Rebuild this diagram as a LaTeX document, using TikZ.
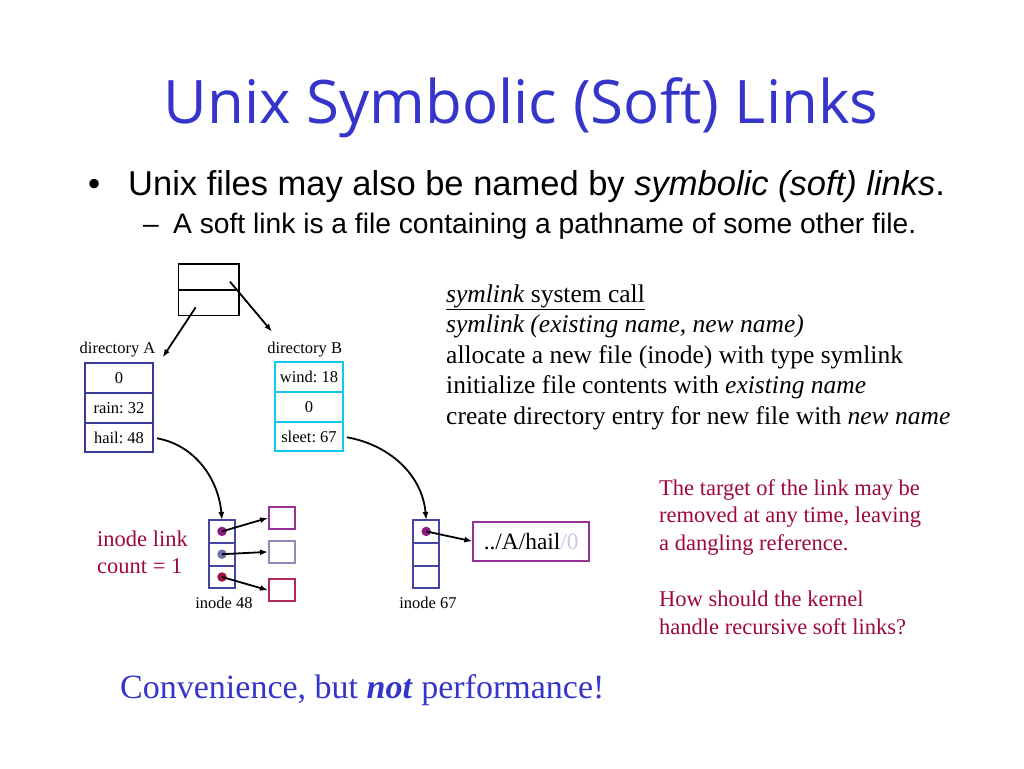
\documentclass[tikz,border=0pt]{standalone}
\usepackage{fontspec}
\setmainfont{Liberation Serif}
\newfontfamily\titlefont{Open Sans}
\newfontfamily\slidesans{Liberation Sans}
\usepackage{tikz}
\usetikzlibrary{positioning, arrows.meta}
\frenchspacing
\definecolor{titleBlue}  {HTML}{3535CC}
\definecolor{dirABlue}   {HTML}{3A3A9A}
\definecolor{dirBCyan}   {HTML}{10C8EC}
\definecolor{inodeBlue}  {HTML}{4545A5}
\definecolor{noteRed}    {HTML}{A0083C}
\definecolor{ptrPurple}  {HTML}{8E1A80}
\definecolor{ptrGray}    {HTML}{7272A2}
\definecolor{ptrCrimson} {HTML}{A0103C}
\definecolor{boxPurple}  {HTML}{9A3398}
\definecolor{boxGray}    {HTML}{8C8CBC}
\definecolor{boxCrimson} {HTML}{B02858}
\definecolor{nulLilac}   {HTML}{C8C8E8}
\newlength{\DirW}
\setlength{\DirW}{68pt}
\newlength{\DirH}
\setlength{\DirH}{29.7pt}
\newlength{\InoW}
\setlength{\InoW}{25.7pt}
\newlength{\InoH}
\setlength{\InoH}{22.8pt}
\newcommand{\fs}[2]{\fontsize{#1}{#2}\selectfont}
\tikzset{
  dircell/.style={draw=#1, line width=2pt, minimum width=\DirW,
    minimum height=\DirH, inner sep=0pt, outer sep=0pt, font=\fs{16.5}{18}},
  inocell/.style={draw=inodeBlue, line width=2pt, minimum width=\InoW,
    minimum height=\InoH, inner sep=0pt, outer sep=0pt},
  blockbox/.style={draw=#1, line width=2pt, minimum width=26pt,
    minimum height=22pt, inner sep=0pt},
  ptrdot/.style={circle, fill=#1, minimum size=9.5pt, inner sep=0pt},
  ptr/.style={-{Latex[length=8pt,width=6pt]}, line width=1.8pt},
  lbl/.style={anchor=base, inner sep=0pt, font=\fs{16.5}{18}},
  note/.style={anchor=base west, inner sep=0pt, align=left},
}

\begin{document}
\begin{tikzpicture}[x=1pt, y=1pt]
\useasboundingbox[fill=white] (0,0) rectangle (1024,-768);

% --- TITLE AND BULLETS ---
\node[anchor=base, inner sep=0pt, text=titleBlue, font=\titlefont\fs{60}{66}]
  (title) at (521,-123) {Unix Symbolic (Soft) Links};
\node[note, font=\slidesans\fs{34.5}{40}]
  (dot) at (88,-195) {\textbullet};
\node[note, font=\slidesans\fs{34.5}{40}]
  (bullet) at (128,-195) {Unix files may also be named by \textit{symbolic (soft) links}.};
\node[note, font=\slidesans\fs{28.2}{34}]
  (dash) at (143,-233) {\textendash};
\node[note, font=\slidesans\fs{28.2}{34}]
  (sub) at (173,-233) {A soft link is a file containing a pathname of some other file.};

% --- PARENT DIRECTORY ---
\node[draw, line width=1.6pt, minimum width=60.5pt, minimum height=25.7pt,
  inner sep=0pt, outer sep=0pt] (topHi) at (208.8,-277) {};
\node[draw, line width=1.6pt, minimum width=60.5pt, minimum height=25.7pt,
  inner sep=0pt, outer sep=0pt, below=0pt of topHi] (topLo) {};
\coordinate (aFrom) at (195.7,-307.3);
\coordinate (aTo)   at (162.7,-357.3);
\coordinate (bFrom) at (230,-281.7);
\coordinate (bTo)   at (272,-331.7);
\draw[ptr] (aFrom) -- (aTo);
\draw[ptr] (bFrom) -- (bTo);

% --- DIRECTORY A ---
\node[lbl] (dirALbl) at (117.5,-353) {directory A};
\node[dircell=dirABlue] (zeroA) at (119,-378.2) {0};
\node[dircell=dirABlue, below=0pt of zeroA] (rainA) {rain: 32};
\node[dircell=dirABlue, below=0pt of rainA] (hailA) {hail: 48};

% --- DIRECTORY B ---
\node[lbl] (dirBLbl) at (304.7,-353) {directory B};
\node[dircell=dirBCyan] (windB) at (309,-377.2) {wind: 18};
\node[dircell=dirBCyan, below=0pt of windB] (zeroB) {0};
\node[dircell=dirBCyan, below=0pt of zeroB] (sleetB) {sleet: 67};

% --- INODE 48 ---
\node[inocell] (i48a) at (222,-531.4) {};
\node[inocell, below=0pt of i48a] (i48b) {};
\node[inocell, below=0pt of i48b] (i48c) {};
\node[lbl] (i48Lbl) at (224,-608) {inode 48};
\node[ptrdot=ptrPurple]  (p48a) at (i48a) {};
\node[ptrdot=ptrGray]    (p48b) at (i48b) {};
\node[ptrdot=ptrCrimson] (p48c) at (i48c) {};
\node[blockbox=boxPurple]  (blkA) at (282,-517.9) {};
\node[blockbox=boxGray]    (blkB) at (282,-551.9) {};
\node[blockbox=boxCrimson] (blkC) at (282,-590.2) {};
\draw[ptr] (p48a.center) -- (blkA.west);
\draw[ptr] (p48b.center) -- (blkB.west);
\draw[ptr] (p48c.center) -- (blkC.west);

% --- INODE 67 ---
\node[inocell] (i67a) at (426.2,-531.4) {};
\node[inocell, below=0pt of i67a] (i67b) {};
\node[inocell, below=0pt of i67b] (i67c) {};
\node[lbl] (i67Lbl) at (428,-608) {inode 67};
\node[ptrdot=ptrPurple] (p67a) at (i67a) {};
\node[draw=boxPurple, line width=2pt, minimum width=115.7pt,
  minimum height=39.3pt, inner sep=0pt, font=\fs{23.4}{26}]
  (target) at (531.2,-541.3) {../A/hail\textcolor{nulLilac}{/0}};
\draw[ptr] (p67a.center) -- (target.west);

% --- ENTRY CURVES ---
\draw[ptr, shorten <=4pt] (hailA.east) to[out=-10, in=95] (i48a.north);
\draw[ptr, shorten <=4pt] (sleetB.east) to[out=-10, in=95] (i67a.north);

% --- NOTES ---
% (base of a multi-line note = its last line)
\node[note, font=\fs{25.5}{30.5}] (calls) at (446,-424)
  {\underline{\textit{symlink} system call}\\
  \textit{symlink (existing name, new name)}\\
  allocate a new file (inode) with type symlink\\
  initialize file contents with \textit{existing name}\\
  create directory entry for new file with \textit{new name}};
\node[note, text=noteRed, font=\fs{22.5}{27}] (count) at (97,-573)
  {inode link\\count = 1};
\node[note, text=noteRed, font=\fs{22.5}{27.5}] (dangle) at (659,-550)
  {The target of the link may be\\removed at any time, leaving\\a dangling reference.};
\node[note, text=noteRed, font=\fs{22.5}{27.5}] (recur) at (659,-634)
  {How should the kernel\\handle recursive soft links?};
\node[note, text=titleBlue, font=\fs{34}{40}] (moral) at (120,-698)
  {Convenience, but \textbf{\textit{not}} performance!};

\end{tikzpicture}
\end{document}
